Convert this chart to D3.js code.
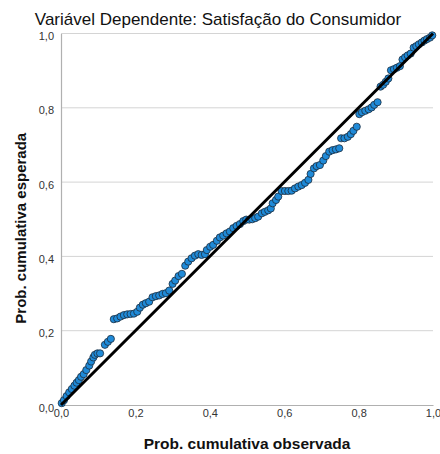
<!DOCTYPE html>
<html>
<head>
<meta charset="utf-8">
<script src="https://cdn.jsdelivr.net/npm/d3@7"></script>
<style>
  html, body { margin: 0; padding: 0; background: #fff; }
  svg { display: block; font-family: "Liberation Sans", Arial, sans-serif; }
</style>
</head>
<body>
<svg id="chart" width="440" height="454"></svg>
<script>
// P-P plot of regression residuals: observed vs expected cumulative probability
const chartTitle = "Variável Dependente: Satisfação do Consumidor";
const xTitle = "Prob. cumulativa observada";
const yTitle = "Prob. cumulativa esperada";
const tickValues = [0, 0.2, 0.4, 0.6, 0.8, 1.0];
const tickLabels = ["0,0", "0,2", "0,4", "0,6", "0,8", "1,0"];

const observed = [
  0.002, 0.008, 0.015, 0.022, 0.029, 0.036, 0.042, 0.048, 0.054, 0.061,
  0.068, 0.076, 0.081, 0.087, 0.091, 0.098, 0.105, 0.118, 0.126, 0.134,
  0.142, 0.151, 0.160, 0.169, 0.178, 0.187, 0.196, 0.205, 0.212, 0.220,
  0.228, 0.237, 0.246, 0.255, 0.264, 0.273, 0.282, 0.291, 0.300, 0.307,
  0.316, 0.325, 0.334, 0.342, 0.351, 0.360, 0.369, 0.378, 0.387, 0.392,
  0.401, 0.409, 0.419, 0.427, 0.436, 0.445, 0.454, 0.463, 0.472, 0.481,
  0.490, 0.498, 0.506, 0.514, 0.522, 0.530, 0.540, 0.548, 0.557, 0.564,
  0.569, 0.578, 0.584, 0.593, 0.602, 0.611, 0.620, 0.629, 0.638, 0.647,
  0.656, 0.665, 0.671, 0.680, 0.687, 0.696, 0.705, 0.712, 0.721, 0.730,
  0.739, 0.748, 0.753, 0.762, 0.771, 0.779, 0.786, 0.795, 0.802, 0.809,
  0.818, 0.827, 0.835, 0.842, 0.851, 0.859, 0.866, 0.873, 0.880, 0.887,
  0.895, 0.903, 0.911, 0.918, 0.925, 0.932, 0.940, 0.948, 0.955, 0.962,
  0.970, 0.977, 0.984, 0.992, 0.998
];
const expected = [
  0.005, 0.013, 0.024, 0.034, 0.043, 0.052, 0.060, 0.067, 0.076, 0.083,
  0.094, 0.106, 0.117, 0.128, 0.135, 0.139, 0.139, 0.162, 0.170, 0.178,
  0.231, 0.233, 0.238, 0.242, 0.244, 0.245, 0.246, 0.251, 0.262, 0.270,
  0.274, 0.278, 0.290, 0.293, 0.295, 0.299, 0.301, 0.308, 0.326, 0.335,
  0.347, 0.353, 0.375, 0.386, 0.395, 0.402, 0.406, 0.404, 0.406, 0.417,
  0.426, 0.431, 0.442, 0.451, 0.456, 0.462, 0.467, 0.476, 0.482, 0.487,
  0.495, 0.499, 0.499, 0.500, 0.503, 0.507, 0.516, 0.520, 0.524, 0.529,
  0.543, 0.552, 0.561, 0.576, 0.576, 0.576, 0.577, 0.583, 0.588, 0.592,
  0.598, 0.606, 0.622, 0.637, 0.643, 0.646, 0.658, 0.670, 0.682, 0.686,
  0.688, 0.691, 0.718, 0.718, 0.722, 0.729, 0.738, 0.749, 0.783, 0.788,
  0.792, 0.796, 0.801, 0.808, 0.815, 0.857, 0.862, 0.870, 0.879, 0.901,
  0.904, 0.908, 0.912, 0.930, 0.936, 0.941, 0.946, 0.962, 0.966, 0.971,
  0.976, 0.981, 0.985, 0.989, 0.995
];
const diagonal = [0, 1];

const svg = d3.select("#chart");
const margin = { left: 61, right: 7, top: 33.5, bottom: 49 };
const W = 440, H = 454;

const x = d3.scaleLinear().domain([0, 1]).range([margin.left, W - margin.right]);
const y = d3.scaleLinear().domain([0, 1]).range([H - margin.bottom, margin.top]);

// horizontal grid lines
svg.append("g")
  .selectAll("line")
  .data(tickValues.filter(v => v > 0))
  .join("line")
  .attr("x1", x(0)).attr("x2", x(1))
  .attr("y1", d => y(d)).attr("y2", d => y(d))
  .attr("stroke", "#d4d4d4").attr("stroke-width", 1);

// axes
const yAxis = d3.axisLeft(y).tickValues(tickValues)
  .tickFormat((d, i) => tickLabels[i]).tickSize(0).tickPadding(7);
const xAxis = d3.axisBottom(x).tickValues(tickValues)
  .tickFormat((d, i) => tickLabels[i]).tickSize(0).tickPadding(4);

const gy = svg.append("g").attr("transform", `translate(${x(0)},0)`).call(yAxis);
const gx = svg.append("g").attr("transform", `translate(0,${y(0)})`).call(xAxis);
[gx, gy].forEach(g => {
  g.select(".domain").attr("stroke", "#b0b0b0").attr("stroke-width", 1.2);
  g.selectAll("text").attr("font-size", 11).attr("fill", "#333")
    .attr("font-family", "Liberation Sans, Arial, sans-serif");
});
gy.selectAll("text").attr("dy", "0.55em");

// points
svg.append("g")
  .selectAll("circle")
  .data(observed.map((o, i) => [o, expected[i]]))
  .join("circle")
  .attr("cx", d => x(d[0]))
  .attr("cy", d => y(d[1]))
  .attr("r", 3.6)
  .attr("fill", "#1f8ad8")
  .attr("stroke", "#1c2c3c")
  .attr("stroke-width", 0.8);

// reference diagonal
svg.append("line")
  .attr("x1", x(diagonal[0])).attr("y1", y(diagonal[0]))
  .attr("x2", x(diagonal[1])).attr("y2", y(diagonal[1]))
  .attr("stroke", "#000").attr("stroke-width", 3);

// titles
svg.append("text")
  .attr("x", 218).attr("y", 25)
  .attr("text-anchor", "middle")
  .attr("font-size", 17).attr("fill", "#111")
  .text(chartTitle);

svg.append("text")
  .attr("x", (x(0) + x(1)) / 2).attr("y", 449)
  .attr("text-anchor", "middle")
  .attr("font-size", 15.5).attr("font-weight", "bold").attr("fill", "#111")
  .text(xTitle);

svg.append("text")
  .attr("transform", `translate(26,${(y(0) + y(1)) / 2 + 9}) rotate(-90)`)
  .attr("text-anchor", "middle")
  .attr("font-size", 15).attr("font-weight", "bold").attr("fill", "#111")
  .text(yTitle);
</script>
</body>
</html>
